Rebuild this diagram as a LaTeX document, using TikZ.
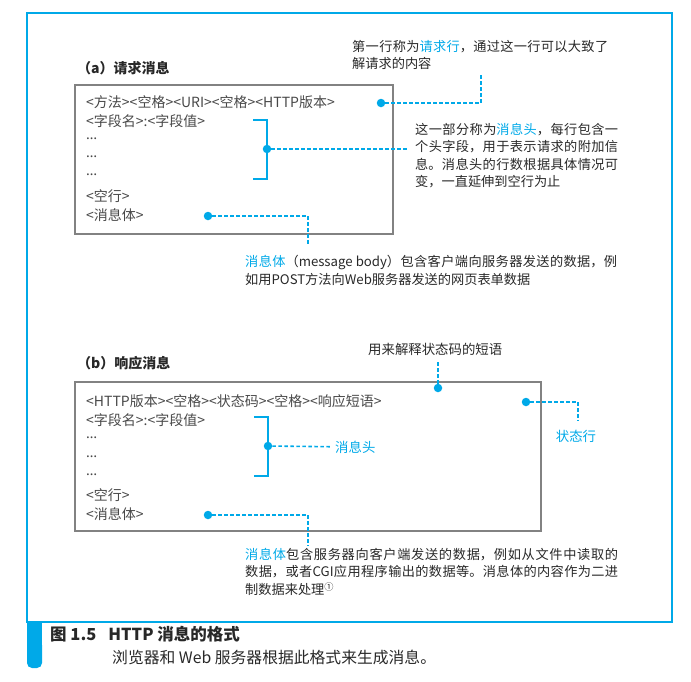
\documentclass[tikz,border=0pt]{standalone}
\usepackage{fontspec}
\setmainfont{Noto Sans CJK SC}
\newfontfamily\latinfont{Noto Sans}
\usepackage{xcolor}
\definecolor{hcyan}{RGB}{0,169,232}
\definecolor{hgray}{RGB}{130,130,130}
\definecolor{htext}{RGB}{72,72,72}
\definecolor{hdark}{RGB}{40,40,40}
\usetikzlibrary{positioning}

\newcommand{\zhjustify}{\XeTeXlinebreaklocale "zh"\relax\XeTeXlinebreakskip=0pt plus 4pt\relax}
\newcommand{\hl}[1]{\textcolor{hcyan}{#1}}
\newcommand{\dotsrow}{{\latinfont\textellipsis}}

\tikzset{
  msgbox/.style={draw=hgray, line width=1.6pt, anchor=north west, inner sep=0pt},
  msgtitle/.style={anchor=west, inner sep=0pt, text=hdark, font=\fontsize{14}{16}\selectfont\bfseries},
  fieldline/.style={anchor=west, inner sep=0pt, text=htext, font=\fontsize{14}{15}\selectfont},
  notetext/.style={anchor=north west, inner sep=0pt, text=hdark, align=justify,
    font=\fontsize{13.2}{17.5}\selectfont\zhjustify},
  bluedot/.style={circle, fill=hcyan, inner sep=0pt, minimum size=8.5pt},
  dotline/.style={draw=hcyan, line width=1.6pt, dash pattern=on 3.5pt off 2.5pt},
  fieldbracket/.style={draw=hcyan, line width=2pt},
}

\begin{document}
\begin{tikzpicture}[x=1pt, y=-1pt]
  \useasboundingbox (0,0) rectangle (691,681);
  % frame and caption tab
  \draw[hcyan, line width=2pt] (27,13) rectangle (672,622);
  \fill[hcyan] (27,621) rectangle (42,655);
  \fill[hcyan, rounded corners=5pt] (27,640) rectangle (42,668);
  \node[anchor=west, inner sep=0pt, text=hdark, font=\fontsize{16.5}{18}\selectfont\bfseries] (caption) at (50,634) {图 1.5\hspace{12pt}HTTP 消息的格式};
  \node[anchor=west, inner sep=0pt, text=hdark, font=\fontsize{15.8}{18}\selectfont] (subcaption) at (112,657) {浏览器和 Web 服务器根据此格式来生成消息。};

  % (a) request message
  \node[msgtitle] (titlea) at (77,68) {（a）请求消息};
  \node[msgbox, minimum width=318pt, minimum height=149pt] (boxa) at (74,84) {};
  \node[fieldline] (reqline) at (86,102) {<方法><空格><URI><空格><HTTP版本>};
  \node[fieldline] (reqfield) at (86,121) {<字段名>:<字段值>};
  \node[fieldline] (reqdots1) at (86,139) {\dotsrow};
  \node[fieldline] (reqdots2) at (86,157) {\dotsrow};
  \node[fieldline] (reqdots3) at (86,175) {\dotsrow};
  \node[fieldline] (reqblank) at (86,196) {<空行>};
  \node[fieldline] (reqbody) at (86,215) {<消息体>};
  \draw[fieldbracket] (253,120) -- (267,120) -- (267,179) -- (253,179);

  \node[bluedot] (reqlinedot) at (381,103) {};
  \node[bluedot] (reqheaddot) at (267,149) {};
  \node[bluedot] (reqbodydot) at (208,216) {};
  \coordinate (reqlineend) at (481,75);
  \coordinate (reqheadend) at (408,149);
  \coordinate (reqbodyend) at (308,246);
  \draw[dotline] (reqlinedot) -| (reqlineend);
  \draw[dotline] (reqheaddot) -- (reqheadend);
  \draw[dotline] (reqbodydot) -| (reqbodyend);

  \node[notetext, text width=256pt] (reqlinenote) at (352,40) {第一行称为\hl{请求行}，通过这一行可以大致了\linebreak 解请求的内容};
  \node[notetext, text width=203pt] (reqheadnote) at (415,123) {这一部分称为\hl{消息头}，每行包含一\linebreak 个头字段，用于表示请求的附加信\linebreak 息。消息头的行数根据具体情况可\linebreak 变，一直延伸到空行为止};
  \node[notetext, text width=372pt] (reqbodynote) at (245,255) {\hl{消息体}（message body）包含客户端向服务器发送的数据，例\linebreak 如用POST方法向Web服务器发送的网页表单数据};

  % (b) response message
  \node[msgtitle] (titleb) at (77,363) {（b）响应消息};
  \node[msgbox, minimum width=466pt, minimum height=149pt] (boxb) at (74,381) {};
  \node[fieldline] (resline) at (86,401) {<HTTP版本><空格><状态码><空格><响应短语>};
  \node[fieldline] (resfield) at (86,420) {<字段名>:<字段值>};
  \node[fieldline] (resdots1) at (86,438) {\dotsrow};
  \node[fieldline] (resdots2) at (86,457) {\dotsrow};
  \node[fieldline] (resdots3) at (86,475) {\dotsrow};
  \node[fieldline] (resblank) at (86,495) {<空行>};
  \node[fieldline] (resbody) at (86,514) {<消息体>};
  \draw[fieldbracket] (254,417) -- (268,417) -- (268,476) -- (254,476);

  \node[bluedot] (phrasedot) at (438,388) {};
  \node[bluedot] (statusdot) at (526,402) {};
  \node[bluedot] (resheaddot) at (268,446) {};
  \node[bluedot] (resbodydot) at (208,515) {};
  \node[anchor=west, inner sep=0pt, text=hdark, font=\fontsize{13.4}{16}\selectfont] (phrasenote) at (368,349) {用来解释状态码的短语};
  \node[inner sep=0pt, text=hcyan, font=\fontsize{13.4}{16}\selectfont] (statuslabel) at (576,436) {状态行};
  \node[anchor=west, inner sep=4pt, text=hcyan, font=\fontsize{13.4}{16}\selectfont] (resheadlabel) at (331,447) {消息头};
  \coordinate (phraseend) at (438,360);
  \coordinate (statusend) at (578,421);
  \coordinate (resbodyend) at (308,546);
  \draw[dotline] (phrasedot) -- (phraseend);
  \draw[dotline] (statusdot) -| (statusend);
  \draw[dotline] (resheaddot) -- (resheadlabel);
  \draw[dotline] (resbodydot) -| (resbodyend);

  \node[notetext, text width=373pt] (resbodynote) at (245,548) {\hl{消息体}包含服务器向客户端发送的数据，例如从文件中读取的\linebreak 数据，或者CGI应用程序输出的数据等。消息体的内容作为二进\linebreak 制数据来处理\textsuperscript{①}};
\end{tikzpicture}
\end{document}
